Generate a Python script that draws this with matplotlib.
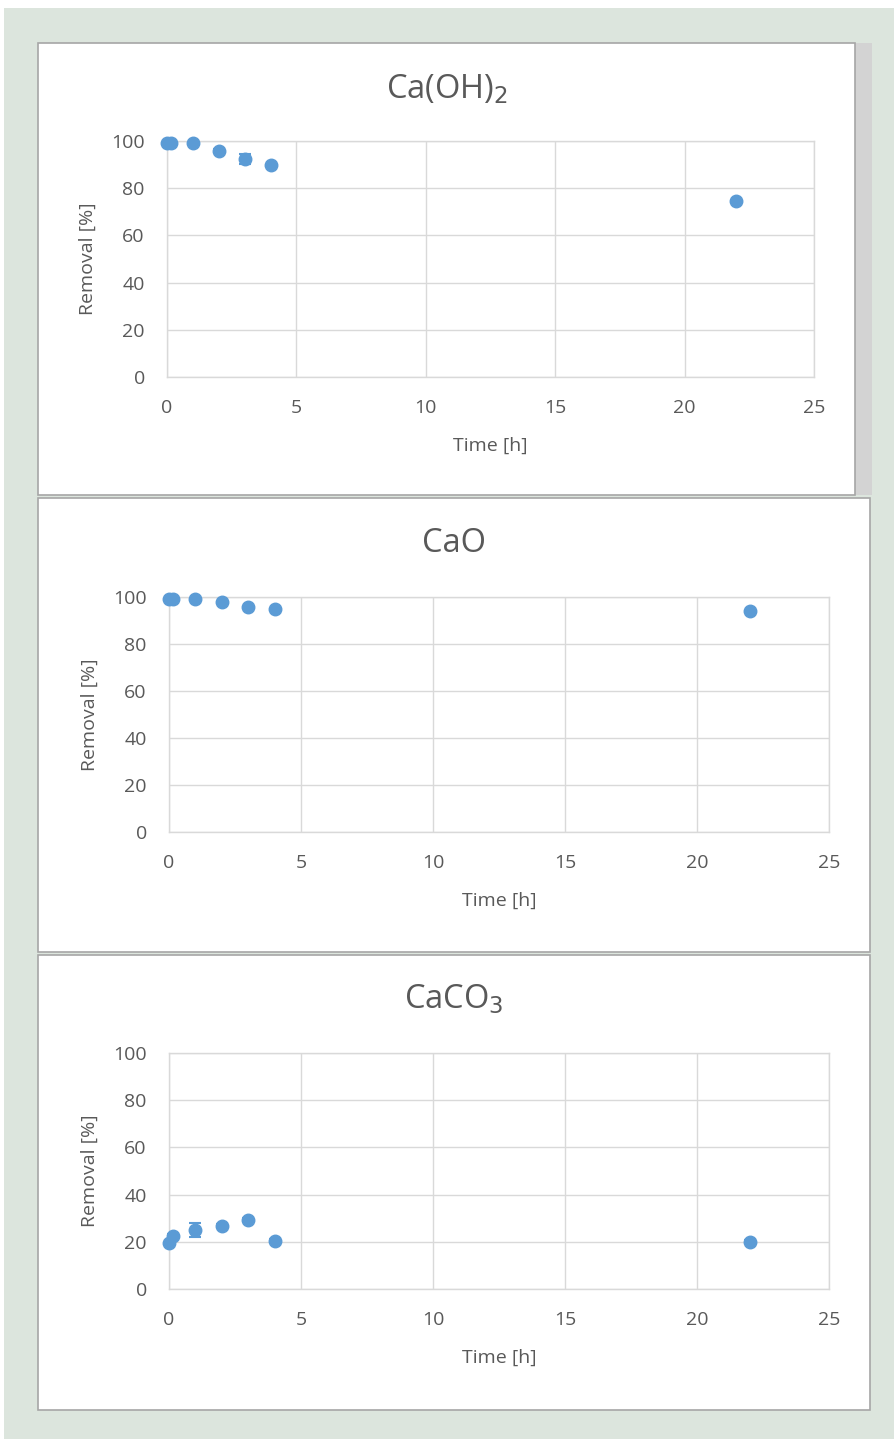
import numpy as np
import matplotlib.pyplot as plt
from matplotlib.patches import Rectangle

plt.rcParams['font.family'] = ['Open Sans', 'DejaVu Sans']

# time points [h]
time_h = [0, 0.17, 1, 2, 3, 4, 22]

# removal [%] and error bars for each sorbent
caoh2 = [99.2, 99.2, 99.1, 95.8, 92.4, 89.8, 74.6]
caoh2_err = [0.5, 0.5, 0.5, 0.8, 2.3, 0.6, 0.6]
cao = [99.1, 99.1, 99.0, 97.8, 95.6, 94.8, 94.0]
cao_err = [0.3, 0.3, 0.3, 0.4, 0.5, 0.4, 0.4]
caco3 = [19.3, 22.5, 25.0, 26.7, 29.1, 20.5, 20.0]
caco3_err = [0.8, 0.8, 3.1, 0.8, 0.8, 0.8, 0.6]

titles = ['Ca(OH)$_2$', 'CaO', 'CaCO$_3$']
series = [caoh2, cao, caco3]
errors = [caoh2_err, cao_err, caco3_err]

W, H = 895, 1439
fig = plt.figure(figsize=(W / 100, H / 100), dpi=100)
fig.patch.set_facecolor('white')


def box(x0, y0, x1, y1):
    # pixel box (top-left origin) -> figure fraction
    return [x0 / W, 1 - y1 / H, (x1 - x0) / W, (y1 - y0) / H]


# green page background
fig.patches.append(Rectangle((4 / W, 0), 1, 1 - 8 / H, transform=fig.transFigure,
                             facecolor='#dce5dd', edgecolor='none', zorder=0))
# grey strip beside the first panel
fig.patches.append(Rectangle((855 / W, 1 - 495 / H), 17 / W, 452 / H,
                             transform=fig.transFigure, facecolor='#d3d3d3',
                             edgecolor='none', zorder=0))

# panels: (left, top, right, bottom), plot area (left, top, right, bottom)
panels = [(38, 43, 855, 495), (38, 498, 870, 952), (38, 955, 870, 1410)]
plots = [(167, 141, 814, 377), (169, 597, 829, 832), (169, 1053, 829, 1289)]
title_y = [89, 543, 999]

for i in range(3):
    px0, py0, px1, py1 = panels[i]
    fig.patches.append(Rectangle((px0 / W, 1 - py1 / H), (px1 - px0) / W, (py1 - py0) / H,
                                 transform=fig.transFigure, facecolor='white',
                                 edgecolor='#a6a6a6', linewidth=1.2, zorder=1))
    ax = fig.add_axes(box(*plots[i]))
    ax.set_zorder(2)
    ax.errorbar(time_h, series[i], yerr=errors[i], fmt='o', color='#5b9bd5',
                markersize=9, ecolor='#5b9bd5', elinewidth=1.5, capsize=4,
                capthick=1.5, clip_on=False, zorder=3)
    ax.set_xlim(0, 25)
    ax.set_ylim(0, 100)
    ax.set_xticks([0, 5, 10, 15, 20, 25])
    ax.set_yticks([0, 20, 40, 60, 80, 100])
    ax.grid(True, color='#d9d9d9', linewidth=1)
    ax.set_axisbelow(True)
    for s in ax.spines.values():
        s.set_color('#d9d9d9')
        s.set_linewidth(1)
    ax.tick_params(length=0, labelsize=14, labelcolor='#595959')
    ax.tick_params(axis='x', pad=16)
    ax.tick_params(axis='y', pad=16)
    ax.set_xlabel('Time [h]', fontsize=14, color='#595959', labelpad=14)
    ax.set_ylabel('Removal [%]', fontsize=14, color='#595959', labelpad=10)
    fig.text((px0 + px1) / 2 / W, 1 - title_y[i] / H, titles[i], fontsize=23.5,
             color='#595959', ha='center', va='center')

fig.savefig('out.png', dpi=100)
